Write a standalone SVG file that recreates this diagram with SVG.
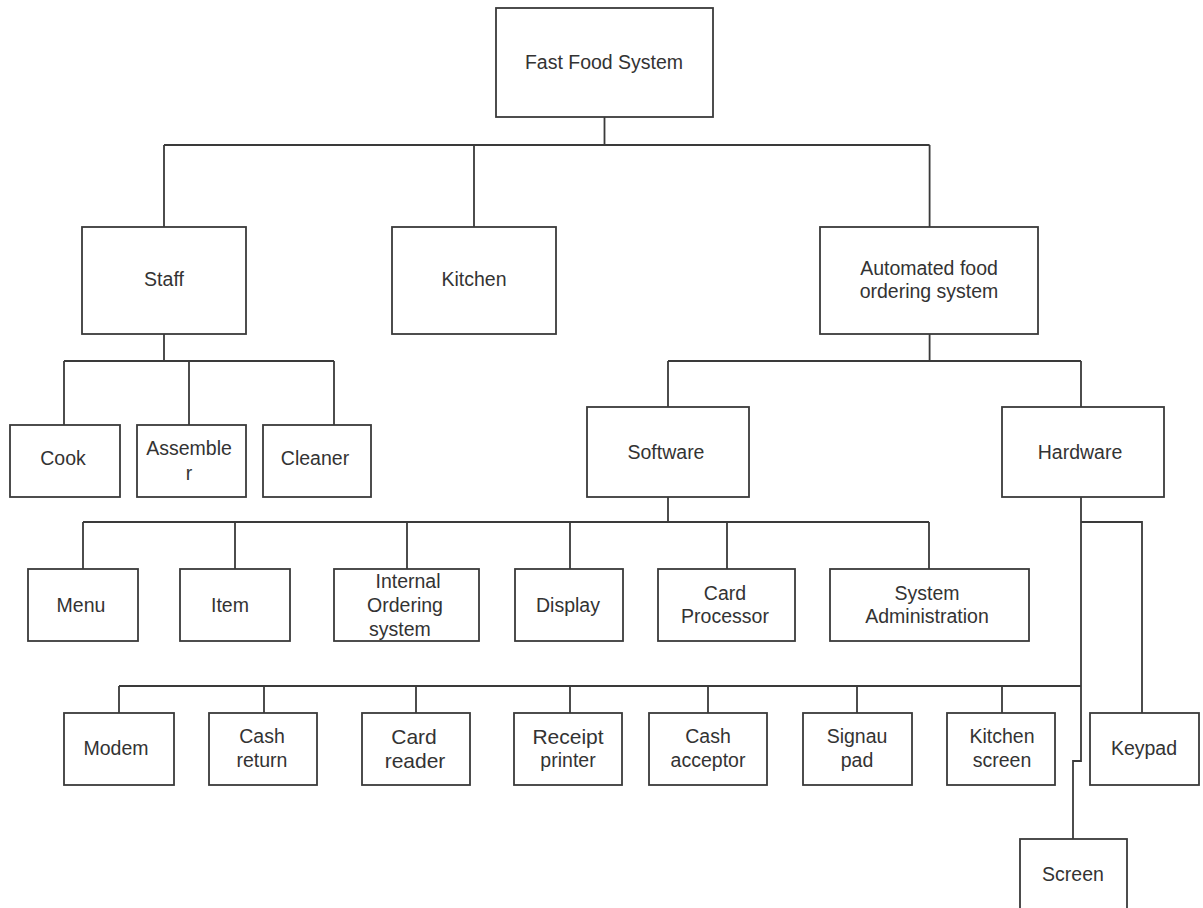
<svg xmlns="http://www.w3.org/2000/svg" width="1203" height="908" viewBox="0 0 1203 908">
<style>
rect{fill:#fff;stroke:#3a3a3a;stroke-width:1.8}
.c path{fill:none;stroke:#3a3a3a;stroke-width:1.8}
text{font-family:"Liberation Sans",Arial,sans-serif;font-size:19.5px;fill:#333;text-anchor:middle;dominant-baseline:central}
.big{font-size:21px}
</style>
<rect x="0" y="0" width="1203" height="908" style="fill:#fff;stroke:none"/>
<g class="c" id="connectors">
<path d="M604.5,117V145M164,145H929.6M164,145V227M474,145V227M929.6,145V227"/>
<path d="M164,334V361M64,361H334M64,361V425M189,361V425M334,361V425"/>
<path d="M929.6,334V361M668,361H1081M668,361V407M1081,361V407"/>
<path d="M668,497V522M83,522H929M83,522V569M235,522V569M407,522V569M570,522V569M727,522V569M929,522V569"/>
<path d="M1081,497V761H1073V839M1081,522H1142V713"/>
<path d="M119,686H1081M119,686V713M264,686V713M416,686V713M570,686V713M708,686V713M857,686V713M1002,686V713"/>
</g>
<g id="root"><rect x="496" y="8" width="217" height="109"/><text x="604" y="62">Fast Food System</text></g>
<g id="staff"><rect x="82" y="227" width="164" height="107"/><text x="164" y="279">Staff</text></g>
<g id="kitchen"><rect x="392" y="227" width="164" height="107"/><text x="474" y="279">Kitchen</text></g>
<g id="auto"><rect x="820" y="227" width="218" height="107"/><text x="929" y="268">Automated food</text><text x="929" y="291">ordering system</text></g>
<g id="cook"><rect x="10" y="425" width="110" height="72"/><text x="63" y="458">Cook</text></g>
<g id="assembler"><rect x="137" y="425" width="109" height="72"/><text x="189" y="448">Assemble</text><text x="189" y="473">r</text></g>
<g id="cleaner"><rect x="263" y="425" width="108" height="72"/><text x="315" y="458">Cleaner</text></g>
<g id="software"><rect x="587" y="407" width="162" height="90"/><text x="666" y="452">Software</text></g>
<g id="hardware"><rect x="1002" y="407" width="162" height="90"/><text x="1080" y="452">Hardware</text></g>
<g id="menu"><rect x="28" y="569" width="110" height="72"/><text x="81" y="605">Menu</text></g>
<g id="item"><rect x="180" y="569" width="110" height="72"/><text x="230" y="605">Item</text></g>
<g id="internal"><rect x="334" y="569" width="145" height="72"/><text x="408" y="581">Internal</text><text x="405" y="605">Ordering</text><text x="400" y="629">system</text></g>
<g id="display"><rect x="515" y="569" width="108" height="72"/><text x="568" y="605">Display</text></g>
<g id="cardproc"><rect x="658" y="569" width="137" height="72"/><text x="725" y="593">Card</text><text x="725" y="616">Processor</text></g>
<g id="sysadmin"><rect x="830" y="569" width="199" height="72"/><text x="927" y="593">System</text><text x="927" y="616">Administration</text></g>
<g id="modem"><rect x="64" y="713" width="110" height="72"/><text x="116" y="748">Modem</text></g>
<g id="cashreturn"><rect x="209" y="713" width="108" height="72"/><text x="262" y="736">Cash</text><text x="262" y="760">return</text></g>
<g id="cardreader"><rect x="362" y="713" width="108" height="72"/><text x="414" y="736" class="big">Card</text><text x="415" y="760" class="big">reader</text></g>
<g id="receipt"><rect x="514" y="713" width="108" height="72"/><text x="568" y="736" class="big">Receipt</text><text x="568" y="760">printer</text></g>
<g id="cashacceptor"><rect x="649" y="713" width="118" height="72"/><text x="708" y="736">Cash</text><text x="708" y="760">acceptor</text></g>
<g id="signau"><rect x="803" y="713" width="109" height="72"/><text x="857" y="736">Signau</text><text x="857" y="760">pad</text></g>
<g id="kitchenscreen"><rect x="947" y="713" width="108" height="72"/><text x="1002" y="736">Kitchen</text><text x="1002" y="760">screen</text></g>
<g id="keypad"><rect x="1090" y="713" width="109" height="72"/><text x="1144" y="748">Keypad</text></g>
<g id="screen"><rect x="1020" y="839" width="107" height="72"/><text x="1073" y="874">Screen</text></g>
</svg>
